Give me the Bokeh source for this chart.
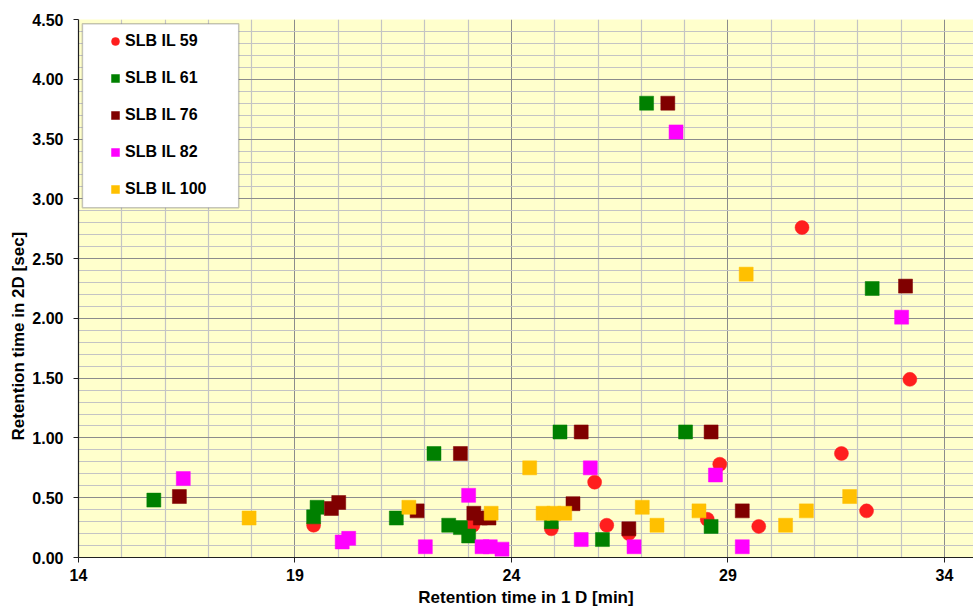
from bokeh.plotting import figure
from bokeh.models import Range1d, FixedTicker, PrintfTickFormatter, BoxAnnotation, Title
from bokeh.embed import file_html
from bokeh.resources import INLINE

# ---- data ----
x_ticks = [14, 19, 24, 29, 34]
y_ticks = [0.0, 0.5, 1.0, 1.5, 2.0, 2.5, 3.0, 3.5, 4.0, 4.5]

il59_x = [19.43, 23.11, 24.92, 25.92, 26.20, 26.71, 28.52, 28.81, 29.71, 30.71, 31.62, 32.20, 33.20]
il59_y = [0.27, 0.27, 0.24, 0.63, 0.27, 0.20, 0.32, 0.78, 0.26, 2.76, 0.87, 0.39, 1.49]

il61_x = [15.74, 19.43, 19.51, 21.34, 22.21, 22.55, 22.82, 23.01, 24.92, 25.12, 26.10, 27.12, 28.02, 28.61, 32.33]
il61_y = [0.48, 0.34, 0.42, 0.33, 0.87, 0.27, 0.25, 0.18, 0.30, 1.05, 0.15, 3.80, 1.05, 0.26, 2.25]

il76_x = [16.33, 19.84, 20.01, 21.82, 22.82, 23.13, 23.28, 23.48, 25.42, 25.61, 26.71, 27.61, 28.61, 29.33, 33.10]
il76_y = [0.51, 0.41, 0.46, 0.39, 0.87, 0.37, 0.33, 0.33, 0.45, 1.05, 0.24, 3.80, 1.05, 0.39, 2.27]

il82_x = [16.42, 20.09, 20.24, 22.01, 23.01, 23.32, 23.51, 23.78, 25.61, 25.82, 26.83, 27.80, 28.71, 29.33, 33.01]
il82_y = [0.66, 0.13, 0.16, 0.09, 0.52, 0.09, 0.09, 0.07, 0.15, 0.75, 0.09, 3.56, 0.69, 0.09, 2.01]

il100_x = [17.94, 21.63, 23.53, 24.42, 24.73, 24.98, 25.23, 27.02, 27.36, 28.33, 29.42, 30.33, 30.81, 31.81]
il100_y = [0.33, 0.42, 0.37, 0.75, 0.37, 0.37, 0.37, 0.42, 0.27, 0.39, 2.37, 0.27, 0.39, 0.51]

names = ["SLB IL 59", "SLB IL 61", "SLB IL 76", "SLB IL 82", "SLB IL 100"]
x_title = "Retention time in 1 D [min]"
y_title = "Retention time in 2D  [sec]"

# ---- styling ----
FONT = "Liberation Sans"
colors = ["#FF1E1E", "#008000", "#800000", "#FF00FF", "#FFC000"]
markers = ["circle", "square", "square", "square", "square"]
sizes = [14, 14, 14, 14, 14]

x_minor = [v for v in range(14, 36) if v not in x_ticks]
y_minor = [round(i * 0.1, 1) for i in range(0, 46) if i % 5 != 0]

p = figure(width=973, height=611,
           x_range=Range1d(14, 34.67), y_range=Range1d(0, 4.5),
           output_backend="svg", toolbar_location=None,
           min_border_left=78, min_border_right=0, min_border_top=19, min_border_bottom=54,
           background_fill_color="#FFFFCC", border_fill_color="white",
           outline_line_color=None)

xt = FixedTicker(ticks=x_ticks, minor_ticks=x_minor)
yt = FixedTicker(ticks=y_ticks, minor_ticks=y_minor)
p.xaxis.ticker = xt
p.yaxis.ticker = yt
p.xgrid.ticker = xt
p.ygrid.ticker = yt
p.yaxis.formatter = PrintfTickFormatter(format="%.2f")

for g in (p.xgrid, p.ygrid):
    g.grid_line_color = "#8C8C8C"
    g.grid_line_width = 1
    g.minor_grid_line_color = "#C4C4C4"
    g.minor_grid_line_width = 1.2

for ax in (p.xaxis, p.yaxis):
    ax.axis_line_color = "#202020"
    ax.axis_line_width = 1.2
    ax.major_tick_line_color = "#202020"
    ax.major_tick_in = 0
    ax.major_tick_out = 5
    ax.minor_tick_line_color = None
    ax.major_label_text_font = FONT
    ax.major_label_text_font_style = "bold"
    ax.major_label_text_font_size = "16px"
    ax.major_label_text_color = "black"
    ax.axis_label_text_font = FONT
    ax.axis_label_text_font_style = "bold"
    ax.axis_label_text_font_size = "17px"
    ax.axis_label_text_color = "black"

p.xaxis.axis_label = x_title
p.xaxis.major_label_standoff = 6
p.xaxis.axis_label_standoff = 4
p.yaxis.major_label_standoff = 10

# y-axis title, placed like the original (starting lower than the frame centre)
p.add_layout(Title(text=y_title, align="left", offset=117, standoff=4,
                   text_font=FONT, text_font_style="bold", text_font_size="17px",
                   text_color="black"), "left")

# legend frame (white box with border)
box = BoxAnnotation(left=14.09, right=17.70, bottom=2.926, top=4.465,
                    fill_color="white", fill_alpha=1.0,
                    line_color="#404040", line_width=1.5)
p.add_layout(box)

xs = [il59_x, il61_x, il76_x, il82_x, il100_x]
ys = [il59_y, il61_y, il76_y, il82_y, il100_y]
for x, y, n, c, m, s in zip(xs, ys, names, colors, markers, sizes):
    p.scatter(x, y, marker=m, size=s, fill_color=c, line_color=c, line_width=0.5,
              legend_label=n)

lg = p.legend[0]
lg.location = (27, 356)
lg.margin = 0
lg.padding = 0
lg.spacing = 13
lg.glyph_width = 20
lg.glyph_height = 24
lg.label_height = 24
lg.label_standoff = 0
lg.background_fill_alpha = 0
lg.border_line_color = None
lg.label_text_font = FONT
lg.label_text_font_style = "bold"
lg.label_text_font_size = "16px"
lg.label_text_color = "black"

open("out.html", "w").write(file_html(p, INLINE))
